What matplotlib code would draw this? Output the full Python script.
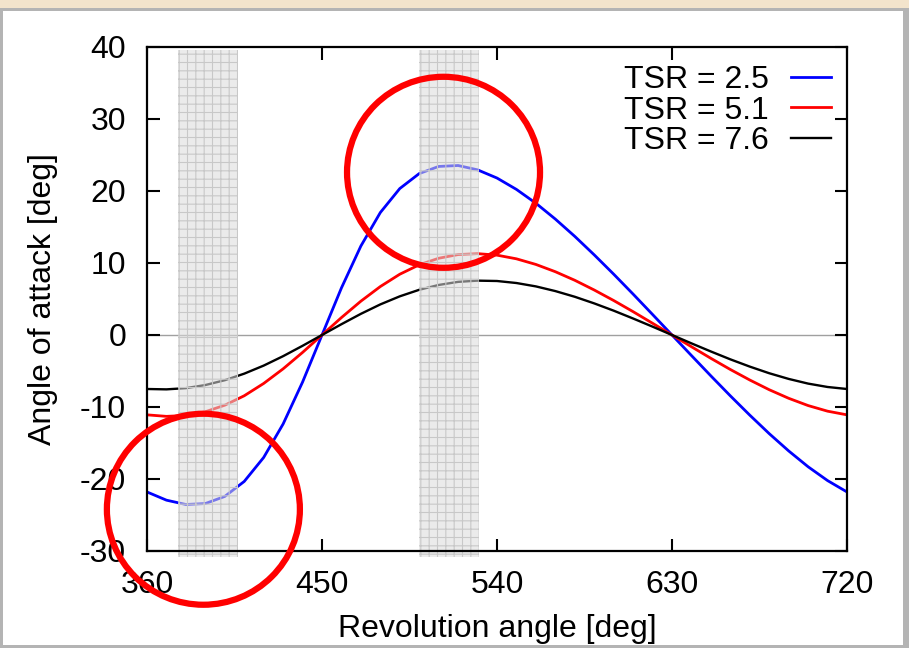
import matplotlib
matplotlib.use("Agg")
import matplotlib.pyplot as plt
from matplotlib.patches import Rectangle, Ellipse
import numpy as np

plt.rcParams['font.family'] = ['Liberation Sans', 'DejaVu Sans']
plt.rcParams['hatch.linewidth'] = 0.8
plt.rcParams['axes.unicode_minus'] = False

# ---- data ----
theta = [360, 370, 380, 390, 400, 410, 420, 430, 440, 450,
         460, 470, 480, 490, 500, 510, 520, 530, 540, 550,
         560, 570, 580, 590, 600, 610, 620, 630, 640, 650,
         660, 670, 680, 690, 700, 710, 720]

aoa_tsr25 = [-21.80, -22.94, -23.54, -23.41, -22.42, -20.34, -17.01, -12.36, -6.54, 0.0,
             6.54, 12.36, 17.01, 20.34, 22.42, 23.41, 23.54, 22.94, 21.80, 20.22,
             18.30, 16.10, 13.70, 11.13, 8.45, 5.68, 2.85, 0.0, -2.85, -5.68,
             -8.45, -11.13, -13.70, -16.10, -18.30, -20.22, -21.80]

aoa_tsr51 = [-11.09, -11.30, -11.17, -10.66, -9.75, -8.44, -6.73, -4.70, -2.42, 0.0,
             2.42, 4.70, 6.73, 8.44, 9.75, 10.66, 11.17, 11.30, 11.09, 10.58,
             9.80, 8.79, 7.60, 6.25, 4.79, 3.24, 1.63, 0.0, -1.63, -3.24,
             -4.79, -6.25, -7.60, -8.79, -9.80, -10.58, -11.09]

aoa_tsr76 = [-7.50, -7.55, -7.38, -6.95, -6.28, -5.37, -4.25, -2.94, -1.50, 0.0,
             1.50, 2.94, 4.25, 5.37, 6.28, 6.95, 7.38, 7.55, 7.50, 7.22,
             6.75, 6.10, 5.31, 4.39, 3.38, 2.29, 1.16, 0.0, -1.16, -2.29,
             -3.38, -4.39, -5.31, -6.10, -6.75, -7.22, -7.50]

series_labels = ['TSR = 2.5', 'TSR = 5.1', 'TSR = 7.6']

band_x0 = [376, 500]
band_x1 = [407, 531]
band_y = [-30.85, 39.6]

circle_cx = [512.5, 389.0]
circle_cy = [22.6, -24.2]

xticks = [360, 450, 540, 630, 720]
yticks = [-30, -20, -10, 0, 10, 20, 30, 40]

# ---- figure ----
W, H = 909, 648
fig = plt.figure(figsize=(W / 100, H / 100), dpi=100)
fig.patch.set_facecolor('white')

# outer frame decoration
fig.patches.append(Rectangle((0, 1 - 8 / H), 1, 8 / H, transform=fig.transFigure,
                             facecolor='#f3e4cc', edgecolor='none', zorder=0))
fig.patches.append(Rectangle((0, 1 - 11 / H), 1, 3.5 / H, transform=fig.transFigure,
                             facecolor='#b4b4b4', edgecolor='none', zorder=0))
fig.patches.append(Rectangle((0, 0), 3 / W, 1 - 8 / H, transform=fig.transFigure,
                             facecolor='#b4b4b4', edgecolor='none', zorder=0))
fig.patches.append(Rectangle((1 - 6 / W, 0), 6 / W, 1 - 8 / H, transform=fig.transFigure,
                             facecolor='#b4b4b4', edgecolor='none', zorder=0))
fig.patches.append(Rectangle((0, 0), 1, 3 / H, transform=fig.transFigure,
                             facecolor='#b4b4b4', edgecolor='none', zorder=0))

ax = fig.add_axes([147 / W, 1 - 551 / H, 700 / W, 504 / H])
ax.set_facecolor('none')

colors = ['#0000ff', '#ff0000', '#000000']
lws = [2.0, 2.0, 1.7]
handles = []
for y, c, lab, lw in zip([aoa_tsr25, aoa_tsr51, aoa_tsr76], colors, series_labels, lws):
    h, = ax.plot(theta, y, color=c, lw=lw, label=lab, zorder=2)
    handles.append(h)

ax.axhline(0, color='#a0a0a0', lw=1.0, zorder=1)

for x0, x1 in zip(band_x0, band_x1):
    r = Rectangle((x0, band_y[0]), x1 - x0, band_y[1] - band_y[0],
                  facecolor=(0.86, 0.86, 0.86, 0.55), edgecolor='#c8c8c8',
                  hatch='++', lw=0, zorder=3, clip_on=False)
    ax.add_patch(r)

ax.set_xlim(360, 720)
ax.set_ylim(-30, 40)
ax.set_xticks(xticks)
ax.set_yticks(yticks)
ax.tick_params(direction='in', length=9, width=1.5, labelsize=23,
               top=True, right=True, colors='black')
ax.tick_params(axis='y', pad=15)
ax.tick_params(axis='x', pad=14)
for s in ax.spines.values():
    s.set_linewidth(1.6)
    s.set_zorder(6)

ax.set_xlabel('Revolution angle [deg]', fontsize=23, labelpad=10)
ax.set_ylabel('Angle of attack [deg]', fontsize=23, labelpad=16)

# circles in pixel-based size
rx_px, ry_px = 96.5, 95.5
for cx, cy in zip(circle_cx, circle_cy):
    e = Ellipse((cx, cy), width=2 * rx_px / (700 / 360), height=2 * ry_px / 7.2,
                fill=False, edgecolor='#ff0000', lw=4.5, zorder=7, clip_on=False)
    ax.add_patch(e)

leg = ax.legend(handles=handles, loc='upper right', frameon=False, fontsize=23,
                markerfirst=False, handlelength=1.25, handletextpad=0.7,
                labelspacing=0.02, borderaxespad=0, borderpad=0,
                bbox_to_anchor=((831 - 147) / 700, (551 - 65) / 504))
for t in leg.get_texts():
    t.set_ha('right')

fig.savefig('out.png', dpi=100)
